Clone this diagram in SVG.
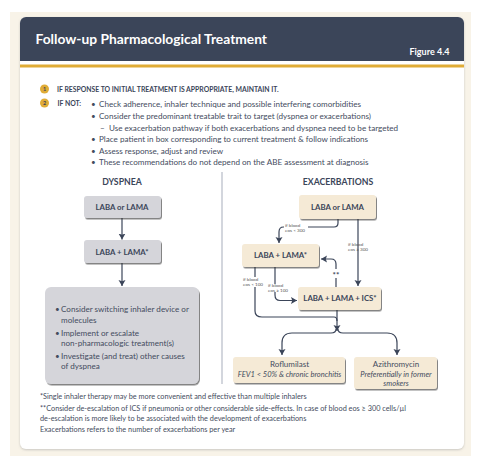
<svg xmlns="http://www.w3.org/2000/svg" width="486" height="468" viewBox="0 0 486 468">
<defs>
<filter id="sh" x="-10%" y="-10%" width="125%" height="130%"><feDropShadow dx="1" dy="1.5" stdDeviation="0.7" flood-color="#333" flood-opacity="0.6"/></filter>
<filter id="ps" x="-3%" y="-3%" width="106%" height="106%"><feDropShadow dx="0" dy="1" stdDeviation="1" flood-color="#999" flood-opacity="0.5"/></filter>
<marker id="ah" markerUnits="userSpaceOnUse" markerWidth="8" markerHeight="8" refX="6" refY="3.500" orient="auto"><path d="M0,0L6,3.500L0,7L1.200,3.500Z" fill="#3b4559"/></marker>
</defs>
<style>
text{font-family:Lato,"Noto Sans","Liberation Sans",sans-serif;fill:#3b4559}
.t{font-size:8.100px;fill:#444c5e}
.f{font-size:7.300px;fill:#444c5e}
.n{font-size:7.800px;font-weight:700;text-anchor:middle;fill:#3b4559}
.c{fill:#f5ead6;filter:url(#sh)}
.g{fill:#d5d5da;filter:url(#sh)}
.l{fill:none;stroke:#3b4559;stroke-width:1.200;marker-end:url(#ah)}
.p{fill:none;stroke:#3b4559;stroke-width:1.200}
.s{font-size:4.600px;fill:#555}
.m{font-size:8px;text-anchor:middle;fill:#444c5e}
.i{font-size:7.550px;font-style:italic;text-anchor:middle;fill:#444c5e}
</style>
<rect x="10" y="12" width="461" height="444" fill="#f8f3e8"/>
<rect x="20" y="17" width="444" height="432" rx="6" fill="#fff" filter="url(#ps)"/>
<path d="M20 61V23a6 6 0 0 1 6-6H458a6 6 0 0 1 6 6V61Z" fill="#3b4559"/>
<rect x="20" y="64.500" width="444" height="3" fill="#e0ac36"/>
<text x="35.500" y="44" font-size="13.800" font-weight="700" style="fill:#fff">Follow-up Pharmacological Treatment</text>
<text x="409.500" y="55" font-size="9" font-weight="700" style="fill:#fff">Figure 4.4</text>
<g id="steps">
<circle cx="44.500" cy="89" r="4.500" fill="#e0ac36"/><text x="44.500" y="91" font-size="5.500" text-anchor="middle" font-weight="700">1</text>
<circle cx="44.500" cy="103" r="4.500" fill="#e0ac36"/><text x="44.500" y="105" font-size="5.500" text-anchor="middle" font-weight="700">2</text>
<text x="57" y="92" font-size="6.850" font-weight="700">IF RESPONSE TO INITIAL TREATMENT IS APPROPRIATE, MAINTAIN IT.</text>
<text x="57.500" y="106" font-size="6.850" font-weight="700">IF NOT:</text>
<text class="t" x="91" y="107">•</text><text class="t" x="99" y="107">Check adherence, inhaler technique and possible interfering comorbidities</text>
<text class="t" x="91" y="118.500">•</text><text class="t" x="99" y="118.500">Consider the predominant treatable trait to target (dyspnea or exacerbations)</text>
<text class="t" x="100" y="130.500">–</text><text class="t" x="109" y="130.500">Use exacerbation pathway if both exacerbations and dyspnea need to be targeted</text>
<text class="t" x="91" y="142">•</text><text class="t" x="99" y="142">Place patient in box corresponding to current treatment &amp; follow indications</text>
<text class="t" x="91" y="153.500">•</text><text class="t" x="99" y="153.500">Assess response, adjust and review</text>
<text class="t" x="91" y="165">•</text><text class="t" x="99" y="165">These recommendations do not depend on the ABE assessment at diagnosis</text>
</g>
<rect id="divider" x="221.500" y="172" width="1" height="212" fill="#a8aebb"/>
<text x="122" y="185" font-size="8.700" font-weight="700" text-anchor="middle">DYSPNEA</text>
<text x="338" y="185" font-size="8.700" font-weight="700" text-anchor="middle">EXACERBATIONS</text>
<g id="connectors">
<path class="l" d="M122 218V239.500"/>
<path class="l" d="M122 263V286"/>
<path class="p" d="M338 219V223Q338 227 334 227H308"/>
<path class="l" d="M284 227H283.500Q279 227 279 232V243"/>
<path class="l" d="M358 219V286"/>
<path class="p" d="M336 287V278"/>
<path class="l" d="M336 269V264Q336 259 331 259H321"/>
<path class="p" d="M275 267V284"/>
<path class="l" d="M275 292V295Q275 300.500 280 300.500H297"/>
<path class="p" d="M255 267V277M255 287V311Q255 317 262 317H334Q337 317 337 321"/>
<path class="l" d="M337 310V331"/>
<path class="l" d="M336 329Q336 333 331 333H292Q282 333 282 343V355"/>
<path class="l" d="M338 329Q338 333 343 333H387Q397 333 397 343V355"/>
</g>
<g id="dyspnea-1"><rect class="g" x="84" y="196" width="77" height="22" rx="3"/><text class="n" x="122" y="210">LABA or LAMA</text></g>
<g id="dyspnea-2"><rect class="g" x="84" y="240" width="77" height="23" rx="3"/><text class="n" x="122" y="255">LABA + LAMA*</text></g>
<g id="dyspnea-3"><rect class="g" x="45" y="287" width="154" height="97" rx="6"/>
<text class="t" x="55" y="312">•</text><text class="t" x="61" y="312">Consider switching inhaler device or</text>
<text class="t" x="61" y="322.500">molecules</text>
<text class="t" x="55" y="335.500">•</text><text class="t" x="61" y="335.500">Implement or escalate</text>
<text class="t" x="61" y="346">non-pharmacologic treatment(s)</text>
<text class="t" x="55" y="358.500">•</text><text class="t" x="61" y="358.500">Investigate (and treat) other causes</text>
<text class="t" x="61" y="369">of dyspnea</text></g>
<g id="exac-1"><rect class="c" x="299" y="195" width="77" height="24" rx="3"/><text class="n" x="337.500" y="210">LABA or LAMA</text></g>
<g id="exac-2"><rect class="c" x="242" y="244" width="77" height="23" rx="3"/><text class="n" x="280.500" y="258">LABA + LAMA*</text></g>
<g id="exac-3"><rect class="c" x="298" y="287" width="83" height="23" rx="3"/><text class="n" x="340" y="301">LABA + LAMA + ICS*</text></g>
<g id="exac-4"><rect class="c" x="233" y="357" width="112" height="26" rx="3"/><text class="m" x="289.500" y="367">Roflumilast</text><text class="i" x="289.500" y="376.500">FEV1 &lt; 50% &amp; chronic bronchitis</text></g>
<g id="exac-5"><rect class="c" x="354" y="357" width="83" height="32" rx="3"/><text class="m" x="396" y="367">Azithromycin</text><text class="i" x="396" y="376.500">Preferentially in former</text><text class="i" x="396" y="386">smokers</text></g>
<g id="labels">
<text class="s" x="285" y="226.500">if blood</text><text class="s" x="285" y="231.500">eos &lt; 300</text>
<text class="s" x="348" y="245.500">if blood</text><text class="s" x="348" y="250.500">eos ≥ 300</text>
<text class="s" x="243" y="280.500">if blood</text><text class="s" x="243" y="285.500">eos &lt; 100</text>
<text class="s" x="268" y="286.500">if blood</text><text class="s" x="268" y="291.500">eos ≥ 100</text>
<text x="336" y="278" font-size="8" font-weight="700" text-anchor="middle">**</text>
</g>
<g id="notes">
<text class="f" x="40" y="399">*Single inhaler therapy may be more convenient and effective than multiple inhalers</text>
<text class="f" x="40" y="411">**Consider de-escalation of ICS if pneumonia or other considerable side-effects. In case of blood eos ≥ 300 cells/µl</text>
<text class="f" x="40" y="420.500">de-escalation is more likely to be associated with the development of exacerbations</text>
<text class="f" x="40" y="432">Exacerbations refers to the number of exacerbations per year</text>
</g>
</svg>
